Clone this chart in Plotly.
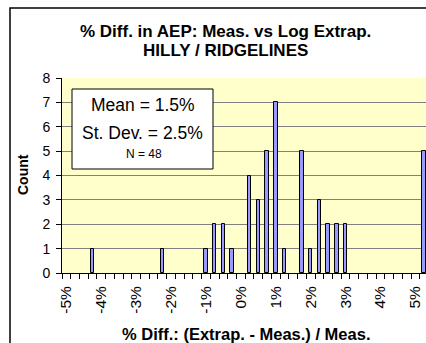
import plotly.graph_objects as go

# Histogram bins (bin value in %, width 0.25 %); 5.25 holds the overflow (> 5 %)
bin_pct = [-4.25, -2.25, -1.0, -0.75, -0.5, -0.25, 0.25, 0.5, 0.75, 1.0,
           1.25, 1.75, 2.0, 2.25, 2.5, 2.75, 3.0, 5.25]
counts = [1, 1, 1, 2, 2, 1, 4, 3, 5, 7, 1, 5, 1, 3, 2, 2, 2, 5]

tick_vals = [-5, -4, -3, -2, -1, 0, 1, 2, 3, 4, 5]
tick_text = [f"{v}%" for v in tick_vals]

mean_pct = 1.5
sd_pct = 2.5
n_obs = sum(counts)

title_lines = ["% Diff. in AEP: Meas. vs Log Extrap.", "HILLY / RIDGELINES"]
x_title = "% Diff.: (Extrap. - Meas.) / Meas."
y_title = "Count"

FONT = "Arial, Liberation Sans, sans-serif"
W, H = 426, 343
ML, MR, MT, MB = 62, 0, 78, 70
PW, PH = W - ML - MR, H - MT - MB


def px_x(p):
    return (p - ML) / PW


def px_y(p):
    return (H - MB - p) / PH


fig = go.Figure()
fig.add_trace(go.Bar(
    x=bin_pct, y=counts, width=0.1,
    marker=dict(color="#9999FF", line=dict(color="#000000", width=1)),
    showlegend=False,
))

annotations = [
    dict(text=f"<b>{title_lines[0]}</b>", x=px_x(225), y=px_y(31.5)),
    dict(text=f"<b>{title_lines[1]}</b>", x=px_x(225), y=px_y(50)),
]
for a in annotations:
    a.update(xref="paper", yref="paper", showarrow=False,
             xanchor="center", yanchor="middle",
             font=dict(family=FONT, size=17, color="black"))

annotations += [
    dict(text=f"<b>{x_title}</b>", x=px_x(246), y=px_y(333.5),
         xref="paper", yref="paper", showarrow=False,
         xanchor="center", yanchor="middle",
         font=dict(family=FONT, size=16.5, color="black")),
    dict(text=f"<b>{y_title}</b>", x=px_x(23), y=px_y(175), textangle=-90,
         xref="paper", yref="paper", showarrow=False,
         xanchor="center", yanchor="middle",
         font=dict(family=FONT, size=14, color="black")),
    dict(text=f"Mean = {mean_pct}%", x=px_x(143), y=px_y(104.5),
         xref="paper", yref="paper", showarrow=False,
         xanchor="center", yanchor="middle",
         font=dict(family=FONT, size=17.5, color="black")),
    dict(text=f"St. Dev. = {sd_pct}%", x=px_x(142.5), y=px_y(132.5),
         xref="paper", yref="paper", showarrow=False,
         xanchor="center", yanchor="middle",
         font=dict(family=FONT, size=17.5, color="black")),
    dict(text=f"N = {n_obs}", x=px_x(143.5), y=px_y(153.5),
         xref="paper", yref="paper", showarrow=False,
         xanchor="center", yanchor="middle",
         font=dict(family=FONT, size=12, color="black")),
]

shapes = [
    # outer chart frame
    dict(type="rect", xref="paper", yref="paper",
         x0=px_x(10), y0=px_y(8), x1=px_x(460), y1=px_y(380),
         line=dict(color="black", width=1.5), fillcolor="rgba(0,0,0,0)",
         layer="below"),
    # statistics box
    dict(type="rect", xref="paper", yref="paper",
         x0=px_x(72), y0=px_y(89), x1=px_x(213), y1=px_y(169),
         line=dict(color="black", width=1), fillcolor="white"),
]

fig.update_layout(
    width=W, height=H,
    margin=dict(l=ML, r=MR, t=MT, b=MB, pad=0),
    paper_bgcolor="white",
    plot_bgcolor="#FFFFCC",
    font=dict(family=FONT, size=14, color="black"),
    bargap=0,
    annotations=annotations,
    shapes=shapes,
    xaxis=dict(
        range=[-5.125, -5.125 + PW / 34.9],
        tickmode="array", tickvals=tick_vals, ticktext=tick_text,
        tickangle=-90, ticks="", showgrid=False, zeroline=False,
        showline=True, linecolor="black", linewidth=1,
        tickfont=dict(family=FONT, size=15.5),
        ticklabelstandoff=6,
        minor=dict(tickmode="linear", tick0=-5.125, dtick=0.25,
                   ticks="outside", ticklen=5, tickcolor="black",
                   tickwidth=1, showgrid=False),
    ),
    yaxis=dict(
        range=[0, 8], dtick=1, ticks="outside", ticklen=5,
        tickcolor="black", showline=True, linecolor="black", linewidth=1,
        showgrid=True, gridcolor="#808080", gridwidth=1, zeroline=False,
        tickfont=dict(family=FONT, size=14),
        ticklabelstandoff=3,
    ),
)

fig.write_html("out.html")
